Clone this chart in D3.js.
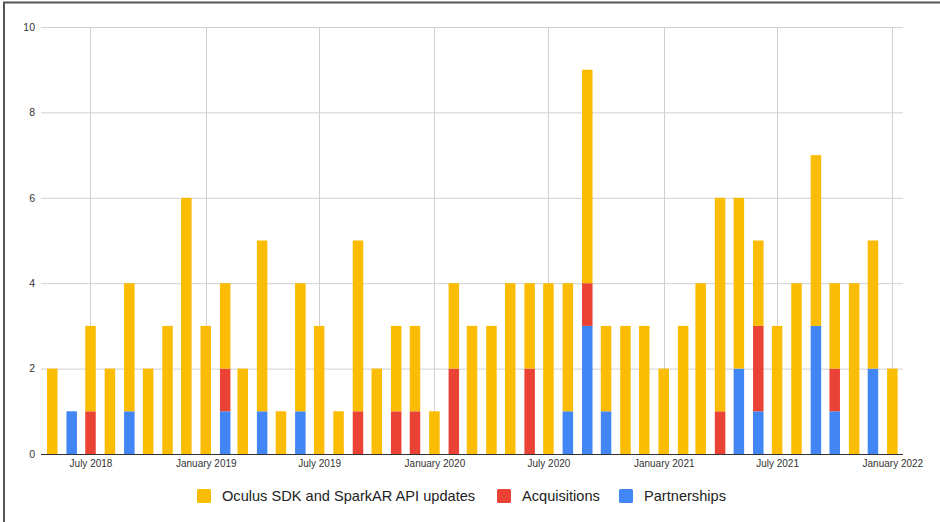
<!DOCTYPE html>
<html>
<head>
<meta charset="utf-8">
<script src="https://cdn.jsdelivr.net/npm/d3@7"></script>
<style>
  html, body { margin: 0; padding: 0; background: #fff; }
  svg { display: block; font-family: "Liberation Sans", Arial, sans-serif; }
</style>
</head>
<body>
<svg id="chart" width="940" height="522"></svg>
<script>
// Monthly counts, May 2018 – January 2022
const months = [
  "2018-05","2018-06","2018-07","2018-08","2018-09","2018-10","2018-11","2018-12",
  "2019-01","2019-02","2019-03","2019-04","2019-05","2019-06","2019-07","2019-08",
  "2019-09","2019-10","2019-11","2019-12","2020-01","2020-02","2020-03","2020-04",
  "2020-05","2020-06","2020-07","2020-08","2020-09","2020-10","2020-11","2020-12",
  "2021-01","2021-02","2021-03","2021-04","2021-05","2021-06","2021-07","2021-08",
  "2021-09","2021-10","2021-11","2021-12","2022-01"
];
const partnerships = [
  0,1,0,0,1,0,0,0, 0,1,0,1,0,1,0,0, 0,0,0,0,0,0,0,0,
  0,0,0,1,3,1,0,0, 0,0,0,0,2,1,0,0, 3,1,0,2,0
];
const acquisitions = [
  0,0,1,0,0,0,0,0, 0,1,0,0,0,0,0,0, 1,0,1,1,0,2,0,0,
  0,2,0,0,1,0,0,0, 0,0,0,1,0,2,0,0, 0,1,0,0,0
];
const sdkUpdates = [
  2,0,2,2,3,2,3,6, 3,2,2,4,1,3,3,1, 4,2,2,2,1,2,3,3,
  4,2,4,3,5,2,3,3, 2,3,4,5,4,2,3,4, 4,2,4,3,2
];
const seriesNames = ["Oculus SDK and SparkAR API updates", "Acquisitions", "Partnerships"];
const seriesColors = ["#fbbc04", "#ea4335", "#4285f4"];
const yTicks = [0, 2, 4, 6, 8, 10];
const xTickDates = ["2018-07","2019-01","2019-07","2020-01","2020-07","2021-01","2021-07","2022-01"];
const xTickLabels = ["July 2018","January 2019","July 2019","January 2020","July 2020","January 2021","July 2021","January 2022"];

const parse = d3.timeParse("%Y-%m");
const rows = months.map((m, i) => ({
  date: parse(m),
  partnerships: partnerships[i],
  acquisitions: acquisitions[i],
  sdk: sdkUpdates[i]
}));

const svg = d3.select("#chart");
const W = 940, H = 522;
const plot = { left: 41, right: 903, top: 27, bottom: 454 };

// Frame lines along the top and left edges
svg.append("line").attr("x1", 3).attr("x2", W).attr("y1", 2.5).attr("y2", 2.5)
  .attr("stroke", "#555").attr("stroke-width", 2);
svg.append("line").attr("x1", 4).attr("x2", 4).attr("y1", 2).attr("y2", H)
  .attr("stroke", "#555").attr("stroke-width", 2);

const x = d3.scaleTime()
  .domain([d3.timeDay.offset(rows[0].date, -18), d3.timeDay.offset(rows[rows.length - 1].date, 17)])
  .range([plot.left, plot.right]);
const y = d3.scaleLinear().domain([0, 10]).range([plot.bottom, plot.top]);

// Horizontal grid
svg.append("g").selectAll("line").data(yTicks.filter(d => d > 0)).join("line")
  .attr("x1", plot.left).attr("x2", plot.right)
  .attr("y1", d => y(d) + 0.5).attr("y2", d => y(d) + 0.5)
  .attr("stroke", "#d0d0d0").attr("stroke-width", 1);

// Vertical grid at labelled dates
const tickDates = xTickDates.map(parse);
svg.append("g").selectAll("line").data(tickDates).join("line")
  .attr("x1", d => Math.round(x(d)) + 0.5).attr("x2", d => Math.round(x(d)) + 0.5)
  .attr("y1", plot.top).attr("y2", plot.bottom)
  .attr("stroke", "#d0d0d0").attr("stroke-width", 1);

// Y axis labels
const yAxis = d3.axisLeft(y).tickValues(yTicks).tickSize(0).tickPadding(6);
const yg = svg.append("g").attr("transform", `translate(${plot.left},0)`).call(yAxis);
yg.select(".domain").remove();
yg.selectAll("text").attr("font-size", 10.5).attr("fill", "#333")
  .attr("font-family", "Liberation Sans, Arial, sans-serif");

// Stacked bars
const stack = d3.stack().keys(["partnerships", "acquisitions", "sdk"]);
const layers = stack(rows);
const layerColor = { partnerships: seriesColors[2], acquisitions: seriesColors[1], sdk: seriesColors[0] };
const barW = 10.5;
svg.append("g").selectAll("g").data(layers).join("g")
  .attr("fill", d => layerColor[d.key])
  .selectAll("rect").data(d => d.filter(s => s[1] > s[0])).join("rect")
  .attr("x", d => x(d.data.date) - barW / 2)
  .attr("width", barW)
  .attr("y", d => y(d[1]))
  .attr("height", d => y(d[0]) - y(d[1]));

// Baseline
svg.append("line").attr("x1", plot.left).attr("x2", plot.right)
  .attr("y1", plot.bottom + 0.5).attr("y2", plot.bottom + 0.5)
  .attr("stroke", "#333").attr("stroke-width", 1);

// X axis labels
const xAxis = d3.axisBottom(x).tickValues(tickDates)
  .tickFormat((d, i) => xTickLabels[i]).tickSize(0).tickPadding(6);
const xg = svg.append("g").attr("transform", `translate(0,${plot.bottom})`).call(xAxis);
xg.select(".domain").remove();
xg.selectAll("text").attr("font-size", 10).attr("fill", "#333")
  .attr("font-family", "Liberation Sans, Arial, sans-serif");

// Legend
const legendX = [197, 497, 619];
const legend = svg.append("g").selectAll("g").data(seriesNames).join("g")
  .attr("transform", (d, i) => `translate(${legendX[i]},489)`);
legend.append("rect").attr("width", 14).attr("height", 14).attr("rx", 1.5)
  .attr("fill", (d, i) => seriesColors[i]);
legend.append("text").attr("x", 25).attr("y", 7).attr("dy", "0.35em")
  .attr("font-size", 14.6).attr("fill", "#222").text(d => d);
</script>
</body>
</html>
